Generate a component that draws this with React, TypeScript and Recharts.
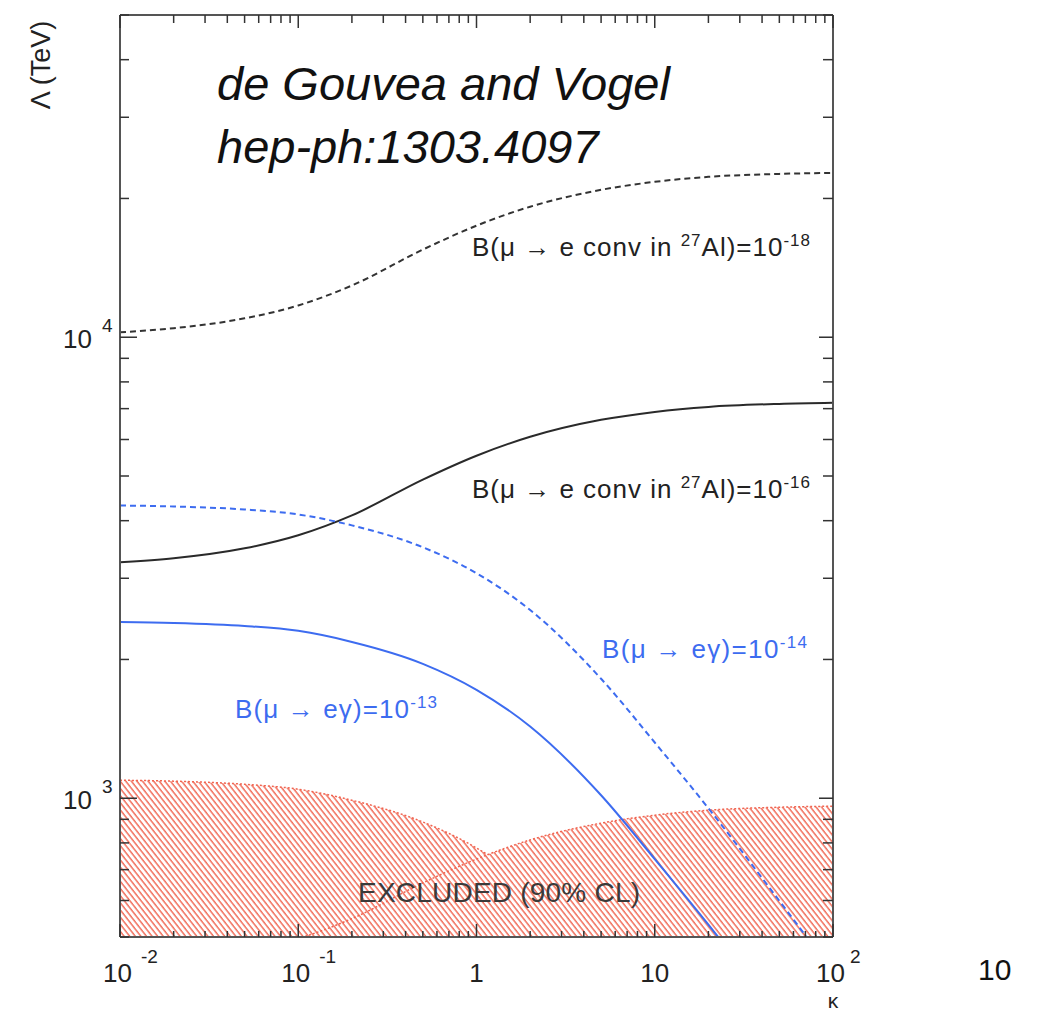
import React from "react";
import { ComposedChart, Line, Area, XAxis, YAxis } from "recharts";

const W = 1037;
const H = 1011;
const FONT = "'Liberation Sans', Arial, Helvetica, sans-serif";

const kappa = [0.01, 0.02, 0.05, 0.1, 0.2, 0.5, 1, 2, 5, 10, 20, 50, 100];

// Lambda (TeV) for each curve
const conv18 = [10250, 10460, 10990, 11720, 12950, 15490, 17460, 19190, 20880, 21730, 22280, 22610, 22720];
const conv16 = [3250, 3315, 3484, 3718, 4106, 4911, 5533, 6081, 6619, 6887, 7061, 7167, 7205];
const meg14 = [4315, 4294, 4230, 4126, 3907, 3502, 3077, 2560, 1816, 1321, 951, 599, 419];
const meg13 = [2412, 2400, 2364, 2307, 2183, 1957, 1719, 1431, 1015, 738, 532, 335, 234];

// excluded regions (90% CL), upper edges
const megExcl = [1094, 1089, 1072, 1046, 990, 888, 780, 649, 460, 335, 240, 151, 107];
const convExcl = [434, 442, 465, 496, 548, 655, 738, 812, 883, 919, 942, 956, 961];

const xTicks = [
  0.01, 0.02, 0.03, 0.04, 0.05, 0.06, 0.07, 0.08, 0.09,
  0.1, 0.2, 0.3, 0.4, 0.5, 0.6, 0.7, 0.8, 0.9,
  1, 2, 3, 4, 5, 6, 7, 8, 9,
  10, 20, 30, 40, 50, 60, 70, 80, 90, 100,
];
const yTicks = [
  500, 600, 700, 800, 900,
  1000, 2000, 3000, 4000, 5000, 6000, 7000, 8000, 9000,
  10000, 20000, 30000, 40000, 50000,
];
const xLabels: Record<string, [string, string]> = {
  "0.01": ["10", "-2"],
  "0.1": ["10", "-1"],
  "1": ["1", ""],
  "10": ["10", ""],
  "100": ["10", "2"],
};
const yLabels: Record<string, [string, string]> = {
  "1000": ["10", "3"],
  "10000": ["10", "4"],
};

const pts = (vals: number[]) => kappa.map((k, i) => ({ k, v: vals[i] }));

const TICK = "#333";
const BLUE = "#3d6cf0";
const RED = "#f06450";

function BottomTick({ x, y, payload }: any) {
  const lab = xLabels[String(payload.value)];
  const len = lab ? 13 : 6;
  return (
    <g>
      <line x1={x} x2={x} y1={y} y2={y - len} stroke={TICK} strokeWidth={1.5} />
      {lab && lab[1] === "" && (
        <text x={x} y={y + 45} fontSize={26} textAnchor="middle" fill="#222">
          {lab[0]}
        </text>
      )}
      {lab && lab[1] !== "" && (
        <text x={x - 17} y={y + 45} fontSize={26} fill="#222">
          {lab[0]}
          <tspan dx={lab[1].length > 1 ? 9 : 5} dy={-19} fontSize={19}>
            {lab[1]}
          </tspan>
        </text>
      )}
    </g>
  );
}

function TopTick({ x, y, payload }: any) {
  const len = xLabels[String(payload.value)] ? 13 : 8;
  return <line x1={x} x2={x} y1={y} y2={y + len} stroke={TICK} strokeWidth={1.5} />;
}

function LeftTick({ x, y, payload }: any) {
  const lab = yLabels[String(payload.value)];
  const len = lab ? 17 : 9;
  return (
    <g>
      <line x1={x} x2={x + len} y1={y} y2={y} stroke={TICK} strokeWidth={1.5} />
      {lab && (
        <text x={x - 57} y={y + 11} fontSize={26} fill="#222">
          {lab[0]}
          <tspan dx={10} dy={-16} fontSize={19}>
            {lab[1]}
          </tspan>
        </text>
      )}
    </g>
  );
}

function RightTick({ x, y, payload }: any) {
  const len = yLabels[String(payload.value)] ? 14 : 10;
  return <line x1={x} x2={x - len} y1={y} y2={y} stroke={TICK} strokeWidth={1.5} />;
}

function Sup({ t }: { t: string }) {
  return (
    <tspan dy={-10} fontSize={17}>
      {t}
    </tspan>
  );
}

export default function App() {
  const xCommon = {
    type: "number" as const,
    scale: "log" as const,
    domain: [0.01, 100],
    allowDataOverflow: true,
    ticks: xTicks,
    interval: 0 as const,
    tickSize: 0,
    tickMargin: 0,
    tickLine: false,
    axisLine: { stroke: "#555", strokeWidth: 2 },
  };
  const yCommon = {
    type: "number" as const,
    scale: "log" as const,
    domain: [500, 50000],
    allowDataOverflow: true,
    ticks: yTicks,
    interval: 0 as const,
    tickSize: 0,
    tickMargin: 0,
    tickLine: false,
    axisLine: { stroke: "#555", strokeWidth: 2 },
  };

  return (
    <div style={{ position: "absolute", left: 0, top: 0, width: W, height: H, background: "#fff", fontFamily: FONT }}>
      <ComposedChart
        width={W}
        height={H}
        margin={{ top: 14, right: 203, bottom: 0, left: 0 }}
        style={{ fontFamily: FONT }}
      >
        <defs>
          <pattern id="hatch" patternUnits="userSpaceOnUse" width={4.4} height={10} patternTransform="rotate(-38)">
            <rect x={0} y={0} width={4.4} height={10} fill="#fff" />
            <line x1={1} y1={0} x2={1} y2={10} stroke={RED} strokeWidth={1.4} />
          </pattern>
        </defs>
        <XAxis xAxisId="b" dataKey="k" orientation="bottom" height={74} {...xCommon} tick={<BottomTick />} />
        <XAxis xAxisId="t" dataKey="k" orientation="top" height={1} {...xCommon} tick={<TopTick />} />
        <YAxis yAxisId="l" dataKey="v" orientation="left" width={120} {...yCommon} tick={<LeftTick />} />
        <YAxis yAxisId="r" dataKey="v" orientation="right" width={1} {...yCommon} tick={<RightTick />} />

        <Area
          xAxisId="b"
          yAxisId="l"
          data={pts(megExcl)}
          dataKey="v"
          type="monotone"
          fill="url(#hatch)"
          fillOpacity={1}
          stroke={RED}
          strokeWidth={1.5}
          strokeDasharray="2 2"
          isAnimationActive={false}
        />
        <Area
          xAxisId="b"
          yAxisId="l"
          data={pts(convExcl)}
          dataKey="v"
          type="monotone"
          fill="url(#hatch)"
          fillOpacity={1}
          stroke={RED}
          strokeWidth={1.5}
          strokeDasharray="2 2"
          isAnimationActive={false}
        />
        <Line xAxisId="b" yAxisId="l" data={pts(conv18)} dataKey="v" type="monotone" stroke="#333" strokeWidth={2} strokeDasharray="6 4" dot={false} isAnimationActive={false} />
        <Line xAxisId="b" yAxisId="l" data={pts(conv16)} dataKey="v" type="monotone" stroke="#2a2a2a" strokeWidth={2} dot={false} isAnimationActive={false} />
        <Line xAxisId="b" yAxisId="l" data={pts(meg14)} dataKey="v" type="monotone" stroke={BLUE} strokeWidth={2} strokeDasharray="6 4" dot={false} isAnimationActive={false} />
        <Line xAxisId="b" yAxisId="l" data={pts(meg13)} dataKey="v" type="monotone" stroke={BLUE} strokeWidth={2} dot={false} isAnimationActive={false} />
        {/* invisible copy so the top / right frame axes get a domain */}
        <Line xAxisId="t" yAxisId="r" data={pts(conv16)} dataKey="v" stroke="none" dot={false} activeDot={false} isAnimationActive={false} />
      </ComposedChart>

      <svg width={W} height={H} style={{ position: "absolute", left: 0, top: 0, pointerEvents: "none" }} fontFamily={FONT}>
        <text x={50} y={65} fontSize={27} fill="#222" textAnchor="middle" transform="rotate(-90 50 65)">
          Λ (TeV)
        </text>
        <text x={217} y={100} fontSize={47} fontStyle="italic" fill="#111">
          de Gouvea and Vogel
        </text>
        <text x={217} y={163} fontSize={47} fontStyle="italic" fill="#111">
          hep-ph:1303.4097
        </text>

        <text x={472} y={256} fontSize={26} fill="#222" textLength={338} lengthAdjust="spacing">
          B(μ → e conv in <Sup t="27" />
          <tspan dy={10}>Al)=10</tspan>
          <Sup t="-18" />
        </text>
        <text x={472} y={498} fontSize={26} fill="#222" textLength={338} lengthAdjust="spacing">
          B(μ → e conv in <Sup t="27" />
          <tspan dy={10}>Al)=10</tspan>
          <Sup t="-16" />
        </text>
        <text x={602} y={658} fontSize={26} fill={BLUE} textLength={205} lengthAdjust="spacing">
          B(μ → eγ)=10
          <Sup t="-14" />
        </text>
        <text x={235} y={718} fontSize={26} fill={BLUE} textLength={202} lengthAdjust="spacing">
          B(μ → eγ)=10
          <Sup t="-13" />
        </text>
        <text x={358} y={902} fontSize={28} fill="#3a3a3a" textLength={282} lengthAdjust="spacing">
          EXCLUDED (90% CL)
        </text>

        <text x={833} y={1008} fontSize={21} fill="#222" textAnchor="middle">
          κ
        </text>
        <text x={978} y={980} fontSize={30} fill="#111">
          10
        </text>
      </svg>
    </div>
  );
}
